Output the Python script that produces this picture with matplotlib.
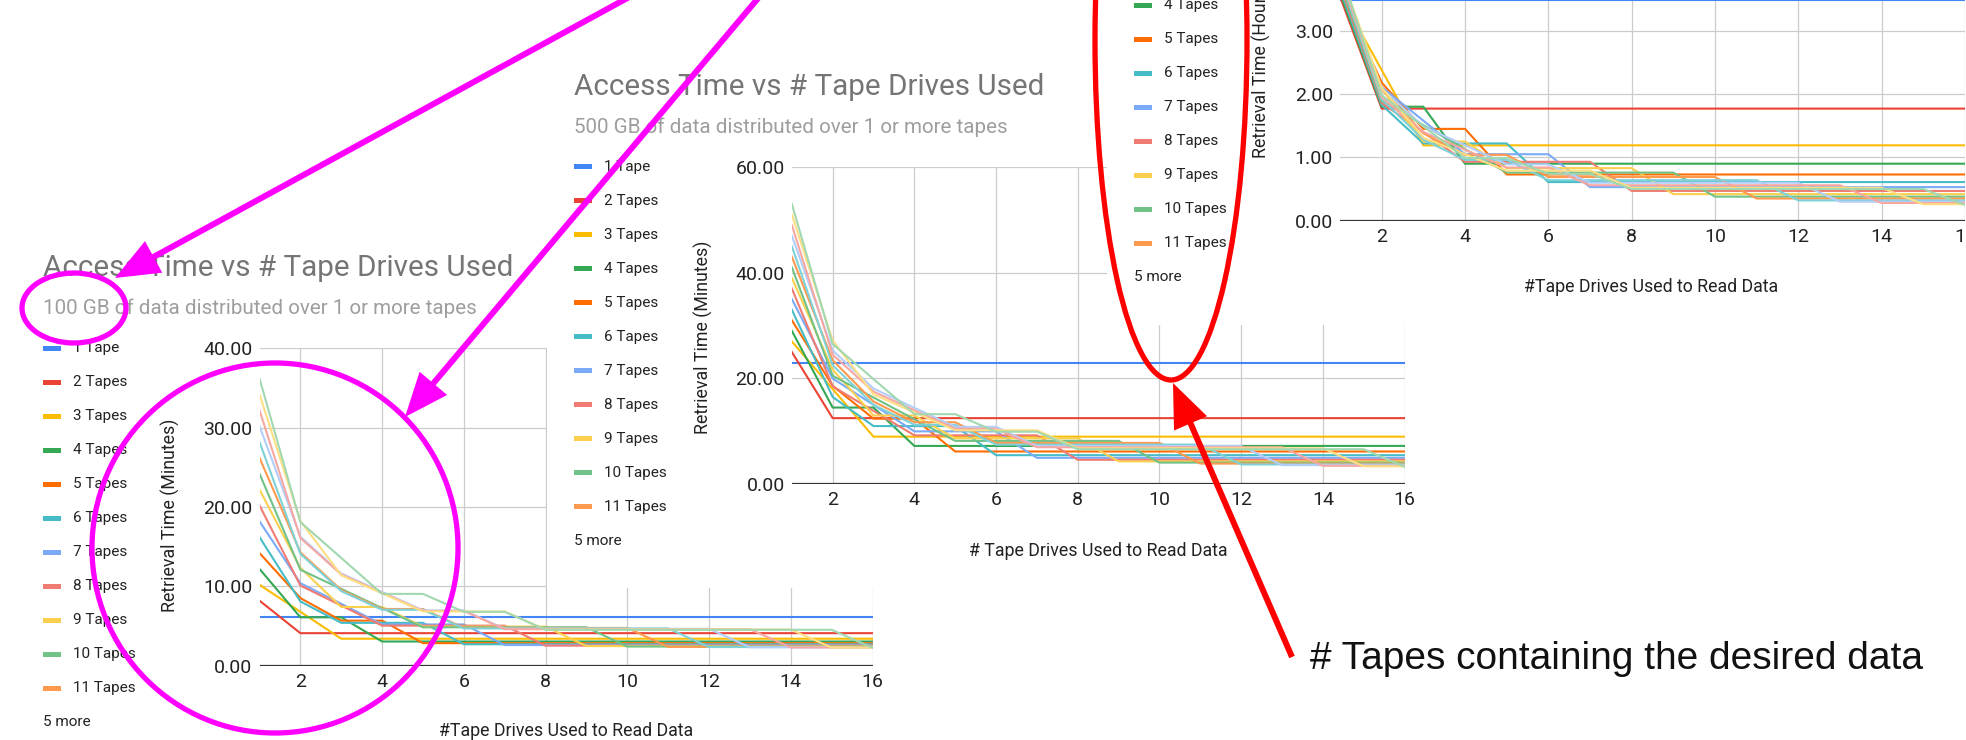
import matplotlib
matplotlib.use("Agg")
import matplotlib.pyplot as plt
from matplotlib.patches import Ellipse, Rectangle, FancyArrow

plt.rcParams['font.family'] = ['Roboto', 'DejaVu Sans']

W, H = 1966, 740

drives = list(range(1, 17))
tape_labels = ["1 Tape", "2 Tapes", "3 Tapes", "4 Tapes", "5 Tapes", "6 Tapes",
               "7 Tapes", "8 Tapes", "9 Tapes", "10 Tapes", "11 Tapes"]
more_label = "5 more"

# Google Sheets default series colours, one per tape count (1..16)
palette = ["#4285F4", "#EA4335", "#FBBC04", "#34A853", "#FF6D01", "#46BDC6",
           "#7BAAF7", "#F07B72", "#FCD04F", "#71C287", "#FF994D", "#7ED1D7",
           "#B3CEFB", "#F7A7A1", "#FDDE83", "#A1D8B0"]

# retrieval time (minutes), 100 GB spread over 1..16 tapes, vs drives 1..16
mins_100gb = [
    [6.2, 6.2, 6.2, 6.2, 6.2, 6.2, 6.2, 6.2, 6.2, 6.2, 6.2, 6.2, 6.2, 6.2, 6.2, 6.2],
    [8.2, 4.1, 4.1, 4.1, 4.1, 4.1, 4.1, 4.1, 4.1, 4.1, 4.1, 4.1, 4.1, 4.1, 4.1, 4.1],
    [10.2, 6.8, 3.4, 3.4, 3.4, 3.4, 3.4, 3.4, 3.4, 3.4, 3.4, 3.4, 3.4, 3.4, 3.4, 3.4],
    [12.2, 6.1, 6.1, 3.05, 3.05, 3.05, 3.05, 3.05, 3.05, 3.05, 3.05, 3.05, 3.05, 3.05, 3.05, 3.05],
    [14.2, 8.52, 5.68, 5.68, 2.84, 2.84, 2.84, 2.84, 2.84, 2.84, 2.84, 2.84, 2.84, 2.84, 2.84, 2.84],
    [16.2, 8.1, 5.4, 5.4, 5.4, 2.7, 2.7, 2.7, 2.7, 2.7, 2.7, 2.7, 2.7, 2.7, 2.7, 2.7],
    [18.2, 10.4, 7.8, 5.2, 5.2, 5.2, 2.6, 2.6, 2.6, 2.6, 2.6, 2.6, 2.6, 2.6, 2.6, 2.6],
    [20.2, 10.1, 7.58, 5.05, 5.05, 5.05, 5.05, 2.53, 2.53, 2.53, 2.53, 2.53, 2.53, 2.53, 2.53, 2.53],
    [22.2, 12.33, 7.4, 7.4, 4.93, 4.93, 4.93, 4.93, 2.47, 2.47, 2.47, 2.47, 2.47, 2.47, 2.47, 2.47],
    [24.2, 12.1, 9.68, 7.26, 4.84, 4.84, 4.84, 4.84, 4.84, 2.42, 2.42, 2.42, 2.42, 2.42, 2.42, 2.42],
    [26.2, 14.29, 9.53, 7.15, 7.15, 4.76, 4.76, 4.76, 4.76, 4.76, 2.38, 2.38, 2.38, 2.38, 2.38, 2.38],
    [28.2, 14.1, 9.4, 7.05, 7.05, 4.7, 4.7, 4.7, 4.7, 4.7, 4.7, 2.35, 2.35, 2.35, 2.35, 2.35],
    [30.2, 16.26, 11.62, 9.29, 6.97, 6.97, 4.65, 4.65, 4.65, 4.65, 4.65, 4.65, 2.32, 2.32, 2.32, 2.32],
    [32.2, 16.1, 11.5, 9.2, 6.9, 6.9, 4.6, 4.6, 4.6, 4.6, 4.6, 4.6, 4.6, 2.3, 2.3, 2.3],
    [34.2, 18.24, 11.4, 9.12, 6.84, 6.84, 6.84, 4.56, 4.56, 4.56, 4.56, 4.56, 4.56, 4.56, 2.28, 2.28],
    [36.2, 18.1, 13.58, 9.05, 9.05, 6.79, 6.79, 4.53, 4.53, 4.53, 4.53, 4.53, 4.53, 4.53, 4.53, 2.26],
]

# retrieval time (minutes), 500 GB
mins_500gb = [
    [23, 23, 23, 23, 23, 23, 23, 23, 23, 23, 23, 23, 23, 23, 23, 23],
    [25, 12.5, 12.5, 12.5, 12.5, 12.5, 12.5, 12.5, 12.5, 12.5, 12.5, 12.5, 12.5, 12.5, 12.5, 12.5],
    [27, 18, 9, 9, 9, 9, 9, 9, 9, 9, 9, 9, 9, 9, 9, 9],
    [29, 14.5, 14.5, 7.25, 7.25, 7.25, 7.25, 7.25, 7.25, 7.25, 7.25, 7.25, 7.25, 7.25, 7.25, 7.25],
    [31, 18.6, 12.4, 12.4, 6.2, 6.2, 6.2, 6.2, 6.2, 6.2, 6.2, 6.2, 6.2, 6.2, 6.2, 6.2],
    [33, 16.5, 11, 11, 11, 5.5, 5.5, 5.5, 5.5, 5.5, 5.5, 5.5, 5.5, 5.5, 5.5, 5.5],
    [35, 20, 15, 10, 10, 10, 5, 5, 5, 5, 5, 5, 5, 5, 5, 5],
    [37, 18.5, 13.88, 9.25, 9.25, 9.25, 9.25, 4.63, 4.63, 4.63, 4.63, 4.63, 4.63, 4.63, 4.63, 4.63],
    [39, 21.67, 13, 13, 8.67, 8.67, 8.67, 8.67, 4.33, 4.33, 4.33, 4.33, 4.33, 4.33, 4.33, 4.33],
    [41, 20.5, 16.4, 12.3, 8.2, 8.2, 8.2, 8.2, 8.2, 4.1, 4.1, 4.1, 4.1, 4.1, 4.1, 4.1],
    [43, 23.45, 15.64, 11.73, 11.73, 7.82, 7.82, 7.82, 7.82, 7.82, 3.91, 3.91, 3.91, 3.91, 3.91, 3.91],
    [45, 22.5, 15, 11.25, 11.25, 7.5, 7.5, 7.5, 7.5, 7.5, 7.5, 3.75, 3.75, 3.75, 3.75, 3.75],
    [47, 25.31, 18.08, 14.46, 10.85, 10.85, 7.23, 7.23, 7.23, 7.23, 7.23, 7.23, 3.62, 3.62, 3.62, 3.62],
    [49, 24.5, 17.5, 14, 10.5, 10.5, 7, 7, 7, 7, 7, 7, 7, 3.5, 3.5, 3.5],
    [51, 27.2, 17, 13.6, 10.2, 10.2, 10.2, 6.8, 6.8, 6.8, 6.8, 6.8, 6.8, 6.8, 3.4, 3.4],
    [53, 26.5, 19.88, 13.25, 13.25, 9.94, 9.94, 6.63, 6.63, 6.63, 6.63, 6.63, 6.63, 6.63, 6.63, 3.31],
]

# retrieval time (hours), largest data set
hours_big = [
    [3.48, 3.48, 3.48, 3.48, 3.48, 3.48, 3.48, 3.48, 3.48, 3.48, 3.48, 3.48, 3.48, 3.48, 3.48, 3.48],
    [3.54, 1.77, 1.77, 1.77, 1.77, 1.77, 1.77, 1.77, 1.77, 1.77, 1.77, 1.77, 1.77, 1.77, 1.77, 1.77],
    [3.57, 2.38, 1.19, 1.19, 1.19, 1.19, 1.19, 1.19, 1.19, 1.19, 1.19, 1.19, 1.19, 1.19, 1.19, 1.19],
    [3.6, 1.8, 1.8, 0.9, 0.9, 0.9, 0.9, 0.9, 0.9, 0.9, 0.9, 0.9, 0.9, 0.9, 0.9, 0.9],
    [3.63, 2.18, 1.45, 1.45, 0.73, 0.73, 0.73, 0.73, 0.73, 0.73, 0.73, 0.73, 0.73, 0.73, 0.73, 0.73],
    [3.66, 1.83, 1.22, 1.22, 1.22, 0.61, 0.61, 0.61, 0.61, 0.61, 0.61, 0.61, 0.61, 0.61, 0.61, 0.61],
    [3.69, 2.11, 1.58, 1.05, 1.05, 1.05, 0.53, 0.53, 0.53, 0.53, 0.53, 0.53, 0.53, 0.53, 0.53, 0.53],
    [3.72, 1.86, 1.4, 0.93, 0.93, 0.93, 0.93, 0.47, 0.47, 0.47, 0.47, 0.47, 0.47, 0.47, 0.47, 0.47],
    [3.75, 2.08, 1.25, 1.25, 0.83, 0.83, 0.83, 0.83, 0.42, 0.42, 0.42, 0.42, 0.42, 0.42, 0.42, 0.42],
    [3.78, 1.89, 1.51, 1.13, 0.76, 0.76, 0.76, 0.76, 0.76, 0.38, 0.38, 0.38, 0.38, 0.38, 0.38, 0.38],
    [3.81, 2.08, 1.38, 1.04, 1.04, 0.69, 0.69, 0.69, 0.69, 0.69, 0.35, 0.35, 0.35, 0.35, 0.35, 0.35],
    [3.84, 1.92, 1.28, 0.96, 0.96, 0.64, 0.64, 0.64, 0.64, 0.64, 0.64, 0.32, 0.32, 0.32, 0.32, 0.32],
    [3.87, 2.09, 1.49, 1.19, 0.89, 0.89, 0.6, 0.6, 0.6, 0.6, 0.6, 0.6, 0.3, 0.3, 0.3, 0.3],
    [3.9, 1.95, 1.4, 1.12, 0.84, 0.84, 0.56, 0.56, 0.56, 0.56, 0.56, 0.56, 0.56, 0.28, 0.28, 0.28],
    [3.93, 2.1, 1.31, 1.05, 0.79, 0.79, 0.79, 0.52, 0.52, 0.52, 0.52, 0.52, 0.52, 0.52, 0.26, 0.26],
    [3.96, 1.98, 1.49, 0.99, 0.99, 0.74, 0.74, 0.5, 0.5, 0.5, 0.5, 0.5, 0.5, 0.5, 0.5, 0.25],
]

TITLE = "Access Time vs # Tape Drives Used"
GRID = "#cccccc"
INK = "#222222"
TITLE_SIZE = 21.3
SUB_SIZE = 14.9
AXIS_SIZE = 12.8
TICK_SIZE = 14
LEG_SIZE = 11

fig = plt.figure(figsize=(W / 100, H / 100), dpi=100)


def canvas(z):
    # full-figure layer in pixel units, y pointing down
    c = fig.add_axes([0, 0, 1, 1], zorder=z)
    c.set_xlim(0, W)
    c.set_ylim(H, 0)
    c.axis("off")
    c.patch.set_alpha(0)
    return c


def plot_area(z, values, ymax, ystep, x1, x16, y0, ytop):
    ax = fig.add_axes([x1 / W, 1 - y0 / H, (x16 - x1) / W, (y0 - ytop) / H], zorder=z)
    ax.patch.set_alpha(0)
    for vals, col in zip(values, palette):
        ax.plot(drives, vals, color=col, lw=1.5)
    ax.set_xlim(1, 16)
    ax.set_ylim(0, ymax)
    ax.set_xticks(range(2, 17, 2))
    yt = [ystep * k for k in range(int(round(ymax / ystep)) + 1)]
    ax.set_yticks(yt)
    ax.set_yticklabels(["%.2f" % v for v in yt])
    ax.grid(True, color=GRID, lw=0.9)
    ax.set_axisbelow(True)
    for s in ax.spines.values():
        s.set_visible(False)
    ax.axhline(0, color="#333333", lw=1.6, zorder=3)
    ax.tick_params(length=0, labelsize=TICK_SIZE, colors=INK, pad=5)
    return ax


def legend(c, x, y0, step=34):
    for i, lab in enumerate(tape_labels):
        y = y0 + step * i
        c.add_patch(Rectangle((x, y - 2.5), 17.5, 5, color=palette[i], lw=0))
        c.text(x + 30, y, lab, fontsize=LEG_SIZE, color=INK, va="center")
    c.text(x, y0 + step * len(tape_labels), more_label, fontsize=LEG_SIZE, color=INK,
           va="center")


# --- 100 GB chart (bottom layer) ---
plot_area(1, mins_100gb, 40, 10, 259.5, 872.5, 665.7, 348.3)
ca = canvas(1.5)
ca.text(43, 268, TITLE, fontsize=TITLE_SIZE, color="#757575", va="center")
ca.text(43, 308, "100 GB of data distributed over 1 or more tapes", fontsize=SUB_SIZE,
        color="#9e9e9e", va="center")
legend(ca, 43, 348.3)
ca.text(170, 515, "Retrieval Time (Minutes)", rotation=90, fontsize=AXIS_SIZE, color=INK,
        ha="center", va="center")
ca.text(566, 731, "#Tape Drives Used to Read Data", fontsize=AXIS_SIZE, color=INK,
        ha="center", va="center")

# --- 500 GB chart, its white card hides part of the first one ---
cb = canvas(2)
cb.add_patch(Rectangle((547, -100), 1500, 688, facecolor="white", lw=0))
cb.text(574, 87, TITLE, fontsize=TITLE_SIZE, color="#757575", va="center")
cb.text(574, 127, "500 GB of data distributed over 1 or more tapes", fontsize=SUB_SIZE,
        color="#9e9e9e", va="center")
legend(cb, 574, 166.7)
cb.text(703, 337, "Retrieval Time (Minutes)", rotation=90, fontsize=AXIS_SIZE, color=INK,
        ha="center", va="center")
cb.text(1098, 551, "# Tape Drives Used to Read Data", fontsize=AXIS_SIZE, color=INK,
        ha="center", va="center")
plot_area(2.5, mins_500gb, 60, 20, 791.8, 1404.6, 484.3, 166.7)

# --- hours chart, top right ---
cc = canvas(3)
cc.add_patch(Rectangle((1107, -100), 900, 425, facecolor="white", lw=0))
legend(cc, 1134, 5 - 3 * 34)
cc.text(1261, 158, "Retrieval Time (Hours)", rotation=90, fontsize=AXIS_SIZE, color=INK,
        ha="center", va="bottom")
cc.text(1651, 287, "#Tape Drives Used to Read Data", fontsize=AXIS_SIZE, color=INK,
        ha="center", va="center")
plot_area(3.5, hours_big, 4, 1, 1340, 1965, 220.7, 220.7 - 4 * 63.33)

# --- hand-drawn call-outs ---
ov = canvas(5)
MAG = "#ff00ff"
RED = "#ff0000"
ov.add_patch(Ellipse((74, 308), 104, 70, fill=False, ec=MAG, lw=3.8))
ov.add_patch(Ellipse((275, 548), 366, 370, fill=False, ec=MAG, lw=3.8))
ov.add_patch(FancyArrow(675, -28, 115 - 675, 278 + 28, width=6, head_width=36,
                        head_length=44, length_includes_head=True, color=MAG, lw=0))
ov.add_patch(FancyArrow(792, -42, 405 - 792, 417 + 42, width=6, head_width=36,
                        head_length=44, length_includes_head=True, color=MAG, lw=0))
ov.add_patch(Ellipse((1171, 40), 152, 680, fill=False, ec=RED, lw=3.8))
ov.add_patch(FancyArrow(1292, 657, 1173 - 1292, 383 - 657, width=6, head_width=36,
                        head_length=44, length_includes_head=True, color=RED, lw=0))
ov.text(1310, 669, "# Tapes containing the desired data", fontsize=28,
        family=["Liberation Sans", "DejaVu Sans"], color="#111111", va="baseline")

fig.savefig("out.png", dpi=100, facecolor="white")
